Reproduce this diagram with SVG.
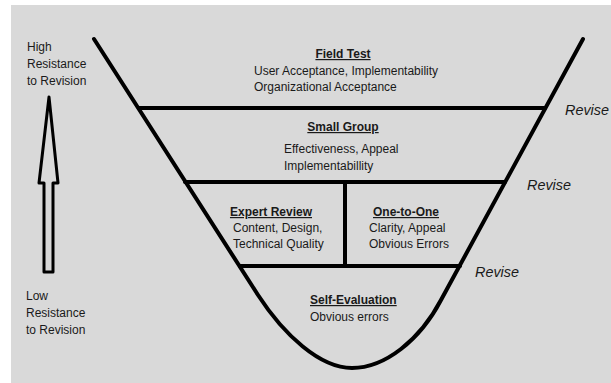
<svg xmlns="http://www.w3.org/2000/svg" width="611" height="383" viewBox="0 0 611 383">
  <style>
    .t { font-family: "Liberation Sans", Arial, sans-serif; font-size: 12px; fill: #1a1a1a; }
    .h { font-weight: bold; text-decoration: underline; }
    .c { text-anchor: middle; }
    .rv { font-family: "Liberation Sans", Arial, sans-serif; font-size: 15.5px; font-style: italic; fill: #1a1a1a; }
    .ln { stroke: #000; stroke-width: 4; fill: none; stroke-linecap: round; }
  </style>
  <rect x="0" y="0" width="611" height="383" fill="#ffffff"/>
  <rect x="11" y="5" width="600" height="378" fill="#d9d9d9"/>

  <!-- resistance scale -->
  <g id="scale">
    <text class="t" x="27" y="51">High</text>
    <text class="t" x="27" y="68">Resistance</text>
    <text class="t" x="27" y="85">to Revision</text>
    <path d="M49,97 L58,183 L53,183 L53,272 L44,272 L44,183 L39,183 Z" fill="#d9d9d9" stroke="#000" stroke-width="3" stroke-linejoin="round"/>
    <text class="t" x="26" y="300">Low</text>
    <text class="t" x="26" y="317">Resistance</text>
    <text class="t" x="26" y="334">to Revision</text>
  </g>

  <!-- funnel outline and dividers -->
  <g id="connectors">
    <path class="ln" d="M94,39 L258,295 C284,335 320,368 352,368 C385,368 420,340 441,300 L583,39"/>
    <line class="ln" x1="139" y1="108" x2="545" y2="108"/>
    <line class="ln" x1="185" y1="182" x2="505" y2="182"/>
    <line class="ln" x1="240" y1="266" x2="460" y2="266"/>
    <line class="ln" x1="345" y1="182" x2="345" y2="266"/>
  </g>

  <g id="field-test">
    <text class="t h c" x="343" y="58">Field Test</text>
    <text class="t" x="254" y="75">User Acceptance, Implementability</text>
    <text class="t" x="254" y="91">Organizational Acceptance</text>
  </g>
  <g id="small-group">
    <text class="t h c" x="343" y="131">Small Group</text>
    <text class="t" x="284" y="153">Effectiveness, Appeal</text>
    <text class="t" x="284" y="170">Implementabillity</text>
  </g>
  <g id="expert-review">
    <text class="t h c" x="271" y="216">Expert Review</text>
    <text class="t" x="233" y="232">Content, Design,</text>
    <text class="t" x="233" y="248">Technical Quality</text>
  </g>
  <g id="one-to-one">
    <text class="t h c" x="406" y="216">One-to-One</text>
    <text class="t" x="369" y="232">Clarity, Appeal</text>
    <text class="t" x="369" y="248">Obvious Errors</text>
  </g>
  <g id="self-evaluation">
    <text class="t h" x="310" y="304">Self-Evaluation</text>
    <text class="t" x="310" y="321">Obvious errors</text>
  </g>

  <g id="revise-labels">
    <text class="rv" x="565" y="115" textLength="44" lengthAdjust="spacingAndGlyphs">Revise</text>
    <text class="rv" x="527" y="190" textLength="44" lengthAdjust="spacingAndGlyphs">Revise</text>
    <text class="rv" x="475" y="277" textLength="44" lengthAdjust="spacingAndGlyphs">Revise</text>
  </g>
</svg>
